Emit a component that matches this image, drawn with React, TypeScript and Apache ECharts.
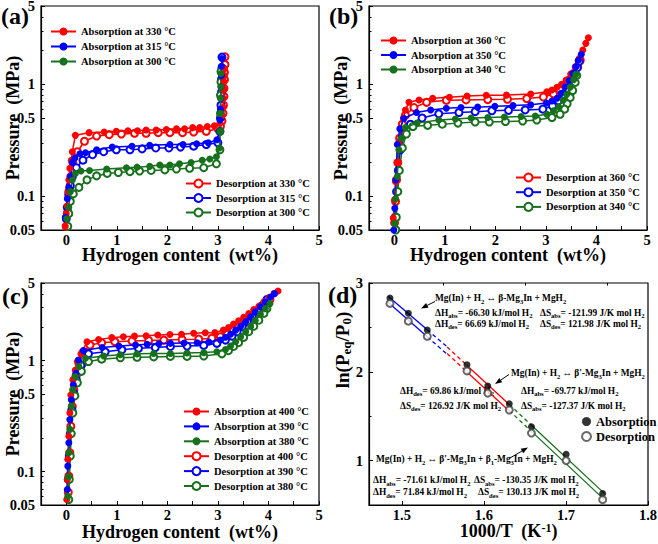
import React, { useEffect, useRef } from 'react';
import * as echarts from 'echarts';

const FONT = "'Liberation Serif','Times New Roman',serif";
const RED = '#ff0000';
const BLUE = '#0000ff';
const GREEN = '#16701c';

type Pt = [number, number];

// ---------- Panel (a): [wt%, MPa] ----------
const absA330: Pt[] = [[-0.02,0.054],[0.0,0.07],[0.02,0.082],[0.03,0.11],[0.05,0.14],[0.07,0.178],[0.1,0.21],[0.12,0.25],[0.18,0.35],[0.45,0.37],[0.75,0.375],[0.99,0.38],[1.22,0.385],[1.41,0.385],[1.58,0.39],[1.78,0.39],[1.98,0.395],[2.18,0.4],[2.34,0.4],[2.5,0.41],[2.64,0.41],[2.79,0.42],[2.93,0.425],[3.04,0.45],[3.08,0.52],[3.1,0.62],[3.11,0.75],[3.12,0.9],[3.12,1.05],[3.13,1.2],[3.13,1.38]];
const absA315: Pt[] = [[-0.02,0.065],[0.02,0.095],[0.05,0.12],[0.08,0.15],[0.12,0.2],[0.17,0.22],[0.27,0.24],[0.38,0.245],[0.6,0.26],[0.91,0.275],[1.3,0.28],[1.65,0.285],[2.05,0.29],[2.31,0.29],[2.58,0.295],[2.81,0.3],[2.98,0.32],[3.03,0.38],[3.04,0.48],[3.05,0.6],[3.06,0.75],[3.06,0.95],[3.07,1.2],[3.07,1.45],[3.08,1.7]];
const absA300: Pt[] = [[0.01,0.063],[0.05,0.08],[0.08,0.11],[0.12,0.14],[0.18,0.16],[0.29,0.168],[0.46,0.17],[0.8,0.175],[1.19,0.18],[1.4,0.182],[1.65,0.185],[1.85,0.19],[2.05,0.19],[2.24,0.195],[2.47,0.2],[2.69,0.21],[2.84,0.215],[2.97,0.225],[3.03,0.27],[3.04,0.38],[3.05,0.55],[3.05,0.75],[3.06,0.95],[3.06,1.25]];
const desA330: Pt[] = [[3.14,1.76],[3.14,1.5],[3.13,1.28],[3.13,1.1],[3.12,0.92],[3.12,0.78],[3.11,0.65],[3.1,0.55],[3.08,0.47],[3.05,0.42],[3.0,0.4],[2.77,0.38],[2.52,0.375],[2.3,0.37],[2.05,0.37],[1.82,0.37],[1.58,0.365],[1.35,0.365],[1.09,0.36],[0.85,0.355],[0.6,0.345],[0.36,0.31],[0.22,0.25],[0.13,0.2],[0.09,0.15],[0.07,0.12],[0.05,0.1],[0.03,0.073],[0.0,0.054]];
const desA315: Pt[] = [[3.08,1.75],[3.08,1.4],[3.07,1.1],[3.07,0.85],[3.06,0.65],[3.05,0.5],[3.04,0.38],[3.0,0.3],[2.77,0.29],[2.52,0.28],[2.26,0.275],[2.03,0.27],[1.77,0.27],[1.5,0.265],[1.26,0.26],[0.99,0.26],[0.74,0.25],[0.52,0.235],[0.33,0.21],[0.2,0.18],[0.12,0.15],[0.08,0.125],[0.05,0.105],[0.02,0.08],[0.0,0.063]];
const desA300: Pt[] = [[3.06,1.3],[3.06,1.05],[3.05,0.8],[3.05,0.55],[3.04,0.38],[3.04,0.26],[2.97,0.195],[2.72,0.18],[2.44,0.178],[2.18,0.175],[1.95,0.172],[1.68,0.17],[1.45,0.168],[1.26,0.166],[1.03,0.163],[0.81,0.16],[0.6,0.152],[0.41,0.14],[0.25,0.12],[0.14,0.105],[0.08,0.09],[0.05,0.07],[0.03,0.054]];

// ---------- Panel (b) ----------
const absB360: Pt[] = [[-0.02,0.064],[0.006,0.093],[0.025,0.135],[0.06,0.2],[0.09,0.3],[0.12,0.4],[0.18,0.5],[0.22,0.59],[0.29,0.69],[0.49,0.725],[0.76,0.75],[1.09,0.766],[1.44,0.786],[1.82,0.798],[2.22,0.8],[2.7,0.818],[3.02,0.858],[3.12,0.889],[3.22,0.94],[3.31,1.0],[3.4,1.09],[3.49,1.235],[3.58,1.435],[3.66,1.7],[3.73,2.02],[3.79,2.32],[3.84,2.6]];
const absB350: Pt[] = [[-0.01,0.05],[0.01,0.078],[0.03,0.14],[0.06,0.29],[0.11,0.4],[0.19,0.495],[0.44,0.56],[0.72,0.59],[1.03,0.61],[1.32,0.62],[1.65,0.625],[1.99,0.635],[2.35,0.645],[2.7,0.655],[3.01,0.68],[3.12,0.71],[3.22,0.75],[3.3,0.83],[3.38,0.95],[3.46,1.08],[3.53,1.25],[3.59,1.43],[3.64,1.64],[3.7,1.85]];
const absB340: Pt[] = [[0.006,0.057],[0.025,0.095],[0.06,0.15],[0.09,0.26],[0.14,0.33],[0.22,0.41],[0.45,0.45],[0.88,0.48],[1.21,0.49],[1.52,0.5],[1.85,0.505],[2.18,0.51],[2.51,0.515],[2.79,0.52],[3.02,0.54],[3.15,0.58],[3.25,0.63],[3.34,0.72],[3.41,0.81],[3.48,0.94],[3.55,1.1],[3.59,1.22]];
const desB360: Pt[] = [[3.68,1.64],[3.63,1.43],[3.55,1.25],[3.47,1.1],[3.38,0.98],[3.27,0.89],[3.15,0.82],[2.95,0.77],[2.62,0.745],[2.24,0.735],[1.85,0.73],[1.42,0.725],[1.03,0.72],[0.64,0.69],[0.39,0.62],[0.22,0.53],[0.16,0.44],[0.105,0.33],[0.07,0.2],[0.045,0.14],[0.025,0.09],[0.006,0.058]];
const desB350: Pt[] = [[3.66,1.6],[3.62,1.4],[3.58,1.22],[3.51,1.06],[3.43,0.92],[3.35,0.8],[3.25,0.71],[3.13,0.64],[2.94,0.6],[2.59,0.59],[2.26,0.585],[1.93,0.58],[1.6,0.57],[1.28,0.56],[0.88,0.545],[0.55,0.5],[0.32,0.44],[0.2,0.36],[0.12,0.26],[0.08,0.17],[0.045,0.11],[0.02,0.065]];
const desB340: Pt[] = [[3.61,1.2],[3.58,1.04],[3.53,0.88],[3.48,0.76],[3.42,0.67],[3.37,0.6],[3.28,0.54],[3.12,0.505],[2.82,0.48],[2.54,0.47],[2.2,0.465],[1.88,0.46],[1.6,0.46],[1.26,0.45],[0.95,0.44],[0.66,0.43],[0.37,0.42],[0.24,0.36],[0.16,0.27],[0.1,0.17],[0.07,0.11],[0.04,0.065],[0.03,0.05]];

// ---------- Panel (c) ----------
const absC400: Pt[] = [[0.01,0.056],[0.02,0.085],[0.03,0.129],[0.05,0.208],[0.07,0.337],[0.09,0.49],[0.13,0.67],[0.18,0.82],[0.22,0.98],[0.29,1.15],[0.41,1.48],[0.64,1.55],[0.9,1.61],[1.13,1.64],[1.35,1.66],[1.58,1.67],[1.81,1.7],[2.05,1.72],[2.28,1.73],[2.52,1.76],[2.75,1.78],[2.94,1.79],[3.11,1.88],[3.21,1.99],[3.31,2.13],[3.41,2.28],[3.51,2.45],[3.61,2.66],[3.71,2.88],[3.81,3.09],[3.91,3.38],[4.01,3.7],[4.11,4.01],[4.19,4.24]];
const absC390: Pt[] = [[0.02,0.069],[0.03,0.112],[0.05,0.182],[0.07,0.294],[0.1,0.444],[0.14,0.605],[0.19,0.77],[0.24,1.01],[0.34,1.23],[0.71,1.31],[1.04,1.35],[1.37,1.38],[1.6,1.4],[1.83,1.42],[2.06,1.43],[2.33,1.44],[2.59,1.45],[2.82,1.47],[3.05,1.53],[3.15,1.62],[3.25,1.73],[3.35,1.88],[3.45,2.04],[3.55,2.24],[3.65,2.48],[3.74,2.75],[3.84,3.05],[3.94,3.38],[4.04,3.74],[4.12,4.01]];
const absC380: Pt[] = [[0.03,0.06],[0.04,0.09],[0.05,0.148],[0.07,0.24],[0.1,0.39],[0.13,0.545],[0.18,0.72],[0.25,0.88],[0.38,1.05],[0.74,1.1],[1.07,1.13],[1.4,1.15],[1.73,1.16],[2.06,1.16],[2.39,1.17],[2.72,1.18],[2.98,1.2],[3.15,1.26],[3.25,1.35],[3.35,1.48],[3.45,1.64],[3.55,1.82],[3.65,2.04],[3.74,2.31],[3.84,2.62],[3.94,2.94],[4.03,3.26]];
const desC400: Pt[] = [[4.03,3.55],[3.93,3.15],[3.8,2.75],[3.67,2.45],[3.54,2.21],[3.41,2.02],[3.31,1.88],[3.18,1.73],[3.05,1.64],[2.88,1.59],[2.62,1.56],[2.29,1.55],[1.93,1.53],[1.63,1.52],[1.3,1.5],[0.96,1.48],[0.7,1.45],[0.47,1.38],[0.34,1.2],[0.25,0.946],[0.19,0.719],[0.15,0.545],[0.12,0.387],[0.09,0.256],[0.07,0.148],[0.05,0.091],[0.04,0.065]];
const desC390: Pt[] = [[3.97,3.55],[3.88,3.15],[3.78,2.8],[3.68,2.48],[3.58,2.24],[3.48,2.02],[3.38,1.82],[3.28,1.66],[3.15,1.53],[2.98,1.43],[2.72,1.37],[2.39,1.35],[2.06,1.34],[1.76,1.31],[1.43,1.29],[1.1,1.25],[0.77,1.2],[0.44,1.15],[0.29,0.91],[0.2,0.67],[0.15,0.51],[0.11,0.36],[0.08,0.22],[0.06,0.138],[0.04,0.085]];
const desC380: Pt[] = [[3.97,2.94],[3.91,2.66],[3.81,2.31],[3.71,2.04],[3.61,1.82],[3.51,1.62],[3.41,1.45],[3.31,1.34],[3.21,1.23],[3.08,1.15],[2.72,1.1],[2.39,1.09],[2.06,1.09],[1.73,1.08],[1.4,1.07],[1.07,1.06],[0.7,1.03],[0.44,0.98],[0.3,0.8],[0.22,0.63],[0.17,0.48],[0.13,0.337],[0.1,0.22],[0.08,0.138],[0.06,0.085],[0.05,0.056]];

// ---------- Panel (d) ----------
const tempsC = [400, 390, 380, 360, 350, 340, 330, 315, 300];
const lnAbs = [2.83, 2.66, 2.47, 2.08, 1.84, 1.64, 1.38, 1.07, 0.63];
const lnDes = [2.77, 2.57, 2.40, 2.01, 1.76, 1.57, 1.31, 1.0, 0.56];

// tick labels
const pTickLabels = [0.05, 0.1, 0.5, 1, 5];
const pMinorTicks = [0.06, 0.07, 0.08, 0.09, 0.2, 0.3, 0.4, 0.6, 0.7, 0.8, 0.9, 2, 3, 4];
const invTLabels = [1.5, 1.6, 1.7, 1.8];
const invTMinor = [1.55, 1.65, 1.75];
const lnLabels = [1, 2, 3];
const lnMinor = [1.5, 2.5];

const Y_MIN = Math.log10(0.05);
const Y_MAX = Math.log10(5);

const labelFont = { fontFamily: FONT, fontWeight: 'bold' as const, fontSize: 14.5, lineHeight: 14, color: '#000' };
const nameFont = { fontFamily: FONT, fontWeight: 'bold' as const, fontSize: 18, color: '#000' };
const legendFont = { fontFamily: FONT, fontWeight: 'bold' as const, fontSize: 10.5, color: '#000' };
const axisLine = { show: true, onZero: false, lineStyle: { color: '#000', width: 1.2 } };
const hiddenLine = { show: false, onZero: false };

function pcSeries(name: string, data: Pt[], color: string, filled: boolean, gi: number) {
  return {
    type: 'line',
    name,
    xAxisIndex: gi,
    yAxisIndex: gi,
    data: data.map(([x, p]) => [x, Math.log10(p)]),
    symbol: filled ? 'circle' : 'emptyCircle',
    symbolSize: 7,
    showSymbol: true,
    lineStyle: { color, width: 1.5 },
    itemStyle: filled ? { color, borderWidth: 0 } : { color, borderColor: color, borderWidth: 1.1 },
    emphasis: { disabled: true },
    z: filled ? 3 : 2,
    silent: true,
  };
}

function fitLine(idx: number[], xs: number[], ys: number[]) {
  const px = idx.map((i) => xs[i]);
  const py = idx.map((i) => ys[i]);
  const mx = px.reduce((a, b) => a + b, 0) / px.length;
  const my = py.reduce((a, b) => a + b, 0) / py.length;
  let sxy = 0, sxx = 0;
  for (let k = 0; k < px.length; k++) {
    sxy += (px[k] - mx) * (py[k] - my);
    sxx += (px[k] - mx) * (px[k] - mx);
  }
  const b = sxy / sxx;
  const a = my - b * mx;
  return (x: number) => a + b * x;
}

function sub(fs: number) {
  return { fontFamily: FONT, fontWeight: 'bold' as const, fontSize: fs, verticalAlign: 'bottom' as const, lineHeight: fs, fill: '#000', color: '#000' };
}

const ANN_FS = 9.4;
function richText(text: string, x: number, y: number, fs = ANN_FS) {
  return {
    type: 'text',
    x,
    y,
    silent: true,
    style: {
      text,
      fill: '#000',
      fontFamily: FONT,
      fontWeight: 'bold',
      fontSize: fs,
      lineHeight: fs + 4,
      align: 'left',
      verticalAlign: 'middle',
      rich: { s: sub(fs * 0.7) },
    },
  };
}

function arrow(x1: number, y1: number, x2: number, y2: number) {
  const ang = Math.atan2(y2 - y1, x2 - x1);
  const L = 7, W = 2.6;
  const bx = x2 - L * Math.cos(ang), by = y2 - L * Math.sin(ang);
  const nx = -Math.sin(ang), ny = Math.cos(ang);
  return [
    { type: 'line', silent: true, shape: { x1, y1, x2: bx, y2: by }, style: { stroke: '#000', lineWidth: 1 } },
    {
      type: 'polygon', silent: true,
      shape: { points: [[x2, y2], [bx + nx * W, by + ny * W], [bx - nx * W, by - ny * W]] },
      style: { fill: '#000' },
    },
  ];
}

function buildOption() {
  const grids = [
    { left: 41, top: 6, width: 278, height: 224 },
    { left: 369, top: 6, width: 278, height: 224 },
    { left: 41, top: 283, width: 278, height: 222 },
    { left: 369, top: 283, width: 279, height: 222 },
  ].map((g) => ({ ...g, show: true, borderColor: '#000', borderWidth: 1.2, backgroundColor: 'transparent', containLabel: false, outerBoundsMode: 'none' }));

  const xNameGap = [16, 16, 18];
  const xAxes: any[] = [0, 1, 2].map((i) => ({
    type: 'value', gridIndex: i, min: -0.5, max: 5, interval: 0.5,
    axisLine,
    axisTick: { show: true, inside: true, length: 4, lineStyle: { color: '#000', width: 1 } },
    axisLabel: { ...labelFont, interval: 0, margin: 3, formatter: (v: number) => (Math.abs(v - Math.round(v)) < 1e-6 ? String(Math.round(v)) : '') },
    splitLine: { show: false },
    name: 'Hydrogen content  (wt%)', nameLocation: 'middle', nameGap: xNameGap[i], nameMoveOverlap: false, nameTextStyle: nameFont,
  }));
  xAxes.push({
    type: 'value', gridIndex: 3, min: 1.46, max: 1.8,
    axisLine,
    axisTick: { show: true, inside: true, length: 4, customValues: invTLabels, lineStyle: { color: '#000', width: 1 } },
    axisLabel: { ...labelFont, margin: 3, customValues: invTLabels, formatter: (v: number) => v.toFixed(1) },
    splitLine: { show: false },
    name: '1000/T  (K{sup|-1})', nameLocation: 'middle', nameGap: 17, nameMoveOverlap: false,
    nameTextStyle: { ...nameFont, rich: { sup: { fontFamily: FONT, fontWeight: 'bold', fontSize: 12, verticalAlign: 'top', lineHeight: 12, color: '#000' } } },
  });
  xAxes.push({
    type: 'value', gridIndex: 3, min: 1.46, max: 1.8,
    axisLine: hiddenLine, axisLabel: { show: false }, splitLine: { show: false },
    axisTick: { show: true, inside: true, length: 2.5, customValues: invTMinor, lineStyle: { color: '#000', width: 1 } },
  });

  const logTicks = pTickLabels.map((p) => Math.log10(p));
  const yAxes: any[] = [0, 1, 2].map((i) => ({
    type: 'value', gridIndex: i, min: Y_MIN, max: Y_MAX,
    axisLine,
    axisTick: { show: true, inside: true, length: 4, customValues: logTicks, lineStyle: { color: '#000', width: 1 } },
    axisLabel: { ...labelFont, margin: 6, customValues: logTicks, formatter: (v: number) => String(Number(Math.pow(10, v).toPrecision(2))) },
    splitLine: { show: false },
    name: 'Pressure  (MPa)', nameLocation: 'middle', nameGap: 19, nameRotate: 90, nameMoveOverlap: false, nameTextStyle: nameFont,
  }));
  yAxes.push({
    type: 'value', gridIndex: 3, min: 0.5, max: 3,
    axisLine,
    axisTick: { show: true, inside: true, length: 4, customValues: lnLabels, lineStyle: { color: '#000', width: 1 } },
    axisLabel: { ...labelFont, margin: 6, customValues: lnLabels, formatter: (v: number) => String(v) },
    splitLine: { show: false },
  });
  [0, 1, 2].forEach((i) => {
    yAxes.push({
      type: 'value', gridIndex: i, min: Y_MIN, max: Y_MAX, position: 'left',
      axisLine: hiddenLine, axisLabel: { show: false }, splitLine: { show: false },
      axisTick: { show: true, inside: true, length: 2.5, customValues: pMinorTicks.map((p) => Math.log10(p)), lineStyle: { color: '#000', width: 1 } },
    });
  });
  yAxes.push({
    type: 'value', gridIndex: 3, min: 0.5, max: 3, position: 'left',
    axisLine: hiddenLine, axisLabel: { show: false }, splitLine: { show: false },
    axisTick: { show: true, inside: true, length: 2.5, customValues: lnMinor, lineStyle: { color: '#000', width: 1 } },
  });

  const series: any[] = [
    pcSeries('Absorption at 330 °C', absA330, RED, true, 0),
    pcSeries('Absorption at 315 °C', absA315, BLUE, true, 0),
    pcSeries('Absorption at 300 °C', absA300, GREEN, true, 0),
    pcSeries('Desorption at 330 °C', desA330, RED, false, 0),
    pcSeries('Desorption at 315 °C', desA315, BLUE, false, 0),
    pcSeries('Desorption at 300 °C', desA300, GREEN, false, 0),
    pcSeries('Absorption at 360 °C', absB360, RED, true, 1),
    pcSeries('Absorption at 350 °C', absB350, BLUE, true, 1),
    pcSeries('Absorption at 340 °C', absB340, GREEN, true, 1),
    pcSeries('Desorption at 360 °C', desB360, RED, false, 1),
    pcSeries('Desorption at 350 °C', desB350, BLUE, false, 1),
    pcSeries('Desorption at 340 °C', desB340, GREEN, false, 1),
    pcSeries('Absorption at 400 °C', absC400, RED, true, 2),
    pcSeries('Absorption at 390 °C', absC390, BLUE, true, 2),
    pcSeries('Absorption at 380 °C', absC380, GREEN, true, 2),
    pcSeries('Desorption at 400 °C', desC400, RED, false, 2),
    pcSeries('Desorption at 390 °C', desC390, BLUE, false, 2),
    pcSeries('Desorption at 380 °C', desC380, GREEN, false, 2),
  ];

  // Panel (d): fitted lines
  const invT = tempsC.map((t) => 1000 / (t + 273.15));
  const mid23 = (invT[2] + invT[3]) / 2;
  const groups = [
    { idx: [0, 1, 2], color: BLUE, solid: [invT[0] - 0.002, invT[2]], dashed: [invT[2], mid23] },
    { idx: [3, 4, 5], color: RED, solid: [invT[3], invT[5]], dashed: [mid23, invT[3]] },
    { idx: [6, 7, 8], color: GREEN, solid: [invT[6], invT[8] + 0.002], dashed: [invT[5], invT[6]] },
  ];
  [lnAbs, lnDes].forEach((ys, k) => {
    groups.forEach((g, gi) => {
      const f = fitLine(g.idx, invT, ys);
      series.push({
        type: 'line', name: `fit-${k}-${gi}-s`, xAxisIndex: 3, yAxisIndex: 3, silent: true,
        data: g.solid.map((x) => [x, f(x)]), showSymbol: false, symbol: 'none',
        lineStyle: { color: g.color, width: 1.3 }, z: 1,
      });
      series.push({
        type: 'line', name: `fit-${k}-${gi}-d`, xAxisIndex: 3, yAxisIndex: 3, silent: true,
        data: g.dashed.map((x) => [x, f(x)]), showSymbol: false, symbol: 'none',
        lineStyle: { color: g.color, width: 1.3, type: [4, 3] }, z: 1,
      });
    });
  });
  series.push({
    type: 'scatter', name: 'Absorption', xAxisIndex: 3, yAxisIndex: 3, silent: true,
    data: invT.map((x, i) => [x, lnAbs[i]]), symbol: 'circle', symbolSize: 7,
    itemStyle: { color: '#000' }, z: 4,
  });
  series.push({
    type: 'scatter', name: 'Desorption', xAxisIndex: 3, yAxisIndex: 3, silent: true,
    data: invT.map((x, i) => [x, lnDes[i]]), symbol: 'emptyCircle', symbolSize: 7,
    itemStyle: { color: '#444', borderColor: '#444', borderWidth: 1 }, z: 4,
  });

  const lg = (data: string[], left: number, top: number, gap = 4) => ({
    show: true, data, left, top, orient: 'vertical', itemGap: gap, itemWidth: 25, itemHeight: 10,
    selectedMode: false, padding: 0, textStyle: { ...legendFont, lineHeight: 11 },
  });

  const legends = [
    lg(['Absorption at 330 °C', 'Absorption at 315 °C', 'Absorption at 300 °C'], 50, 26),
    lg(['Desorption at 330 °C', 'Desorption at 315 °C', 'Desorption at 300 °C'], 185, 178, 3.5),
    lg(['Absorption at 360 °C', 'Absorption at 350 °C', 'Absorption at 340 °C'], 380, 35, 3.5),
    lg(['Desorption at 360 °C', 'Desorption at 350 °C', 'Desorption at 340 °C'], 515, 172, 3.7),
    lg(['Absorption at 400 °C', 'Absorption at 390 °C', 'Absorption at 380 °C', 'Desorption at 400 °C', 'Desorption at 390 °C', 'Desorption at 380 °C'], 183, 406, 3.9),
    {
      show: true, data: ['Absorption', 'Desorption'], left: 581, top: 415, orient: 'vertical',
      itemGap: 2, itemWidth: 9, itemHeight: 9, selectedMode: false, padding: 0,
      textStyle: { fontFamily: FONT, fontWeight: 'bold', fontSize: 12.5, color: '#000', lineHeight: 12.5 },
    },
  ];

  const panelLabel = (t: string, x: number, y: number) => ({
    type: 'text', x, y, silent: true,
    style: { text: t, fill: '#000', fontFamily: FONT, fontWeight: 'bold', fontSize: 24, align: 'left', verticalAlign: 'middle' },
  });

  const graphics: any[] = [
    panelLabel('(a)', 1, 16),
    panelLabel('(b)', 329, 16),
    panelLabel('(c)', 2, 296),
    panelLabel('(d)', 328, 295),
    {
      type: 'text', x: 342, y: 350, rotation: Math.PI / 2, silent: true,
      style: {
        text: 'ln(P{s|eq}/P{s|0})', fill: '#000', fontFamily: FONT, fontWeight: 'bold', fontSize: 19,
        lineHeight: 22, align: 'center', verticalAlign: 'middle', rich: { s: sub(13) },
      },
    },
    richText('Mg(In) + H{s|2} ↔ β-Mg{s|3}In + MgH{s|2}', 435, 298),
    richText('ΔH{s|abs}= -66.30 kJ/mol H{s|2}', 435, 312.5),
    richText('ΔS{s|abs}= -121.99 J/K mol H{s|2}', 540, 312.5),
    richText('ΔH{s|des}= 66.69 kJ/mol H{s|2}', 435, 323.5),
    richText('ΔS{s|des}= 121.98 J/K mol H{s|2}', 540, 323.5),
    richText("Mg(In) + H{s|2} ↔ β'-Mg{s|3}In + MgH{s|2}", 511, 373),
    richText('ΔH{s|des}= 69.86 kJ/mol H{s|2}', 400, 390.5),
    richText('ΔS{s|des}= 126.92 J/K mol H{s|2}', 400, 405.5),
    richText('ΔH{s|abs}= -69.77 kJ/mol H{s|2}', 521, 390.5),
    richText('ΔS{s|abs}= -127.37 J/K mol H{s|2}', 521, 405.5),
    richText("Mg(In) + H{s|2} ↔ β'-Mg{s|3}In + β{s|1}-Mg{s|3}In + MgH{s|2}", 376, 459),
    richText('ΔH{s|abs}= -71.61 kJ/mol H{s|2}', 373, 480),
    richText('ΔS{s|abs}= -130.35 J/K mol H{s|2}', 474, 480),
    richText('ΔH{s|des}= 71.84 kJ/mol H{s|2}', 373, 492),
    richText('ΔS{s|des}= 130.13 J/K mol H{s|2}', 478, 492),
    ...arrow(435, 301.5, 421, 308.5),
    ...arrow(509, 374.5, 495, 384),
    ...arrow(510, 458, 528, 447.5),
  ];

  return {
    animation: false,
    backgroundColor: '#fff',
    grid: grids,
    xAxis: xAxes,
    yAxis: yAxes,
    legend: legends,
    series,
    graphic: graphics,
  };
}

export default function App() {
  const ref = useRef<HTMLDivElement>(null);
  useEffect(() => {
    if (!ref.current) return;
    const chart = echarts.init(ref.current, null, { renderer: 'svg' });
    chart.setOption(buildOption() as any);
    return () => chart.dispose();
  }, []);
  return (
    <div
      ref={ref}
      style={{ position: 'fixed', left: 0, top: 0, width: 658, height: 544, background: '#fff' }}
    />
  );
}
